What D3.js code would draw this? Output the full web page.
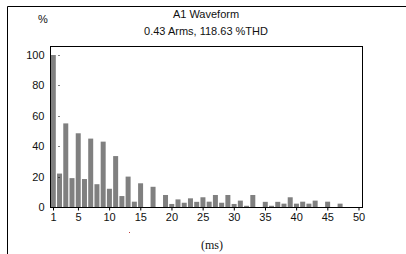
<!DOCTYPE html>
<html>
<head>
<meta charset="utf-8">
<script src="https://cdn.jsdelivr.net/npm/d3@7"></script>
<style>
  body { margin: 0; background: #fff; }
  svg text { font-family: "Liberation Sans", Arial, sans-serif; fill: #111; }
</style>
</head>
<body>
<div id="chart"></div>
<script>
// harmonic order and % of fundamental
const harmonics = d3.range(1, 51);
const percent = [
  100, 22, 55, 19, 48.5, 18.4, 45, 15, 43, 12,
  33.5, 7.2, 20, 3.5, 15.6, 0, 13.3, 0, 7.9, 2,
  5, 2.8, 5.7, 3.4, 6.4, 3.5, 7.9, 2.8, 7.9, 2,
  4.2, 0.8, 7.9, 0, 3.4, 0.8, 3.4, 2.2, 6.4, 2.2,
  3.5, 2.2, 4.2, 0, 3.5, 0, 2.2, 0, 0, 0
];
const xTicks = [1, 5, 10, 15, 20, 25, 30, 35, 40, 45, 50];
const yTicks = [0, 20, 40, 60, 80, 100];
const titleLines = ['A1 Waveform', '0.43 Arms, 118.63 %THD'];

const width = 406, height = 254;
const box = { left: 50.5, right: 362.5, top: 46.5, bottom: 207.5 };

const svg = d3.select('#chart').append('svg')
    .attr('width', width)
    .attr('height', height);

// outer frame (only top and left edges are in view)
svg.append('path')
    .attr('d', 'M7.5,' + height + 'V6.5H' + width)
    .attr('fill', 'none')
    .attr('stroke', '#000');

const x = d3.scaleLinear().domain([1, 50]).range([53, 358.5]);
const y = d3.scaleLinear().domain([0, 100]).range([207, 55]);
const barW = 5;

svg.append('g')
    .selectAll('rect').data(harmonics)
    .enter()
    .append('rect')
    .attr('x', d => x(d) - barW / 2 + 0.3)
    .attr('y', (d, i) => y(percent[i]))
    .attr('width', barW)
    .attr('height', (d, i) => y(0) - y(percent[i]))
    .attr('fill', '#808080');

// little marker dots near the y axis
svg.append('g')
    .selectAll('rect').data(yTicks.filter(v => v > 0))
    .enter()
    .append('rect')
    .attr('x', 58.5)
    .attr('y', d => Math.round(y(d)))
    .attr('width', 1)
    .attr('height', 1)
    .attr('fill', '#000');

// plot box
svg.append('rect')
    .attr('x', box.left)
    .attr('y', box.top)
    .attr('width', box.right - box.left)
    .attr('height', box.bottom - box.top)
    .attr('fill', 'none')
    .attr('stroke', '#000');

// x axis
const xAxis = d3.axisBottom(x).tickValues(xTicks).tickSize(3).tickPadding(3);
const gx = svg.append('g')
    .attr('transform', 'translate(0,' + box.bottom + ')')
    .call(xAxis);
gx.select('.domain').remove();
gx.selectAll('text').style('font-size', '11px').attr('fill', '#111');

// y axis labels
const yAxis = d3.axisLeft(y).tickValues(yTicks).tickSize(0).tickPadding(6);
const gy = svg.append('g')
    .attr('transform', 'translate(' + box.left + ',0)')
    .call(yAxis);
gy.select('.domain').remove();
gy.selectAll('text').style('font-size', '11px').attr('fill', '#111');

// titles
svg.append('g').selectAll('text').data(titleLines)
    .enter()
    .append('text')
    .attr('x', 206)
    .attr('y', (d, i) => 18 + i * 17)
    .attr('text-anchor', 'middle')
    .style('font-size', '11px')
    .text(d => d);

svg.append('text')
    .attr('x', 43)
    .attr('y', 23)
    .attr('text-anchor', 'middle')
    .style('font-size', '11px')
    .text('%');

svg.append('text')
    .attr('x', 212)
    .attr('y', 249)
    .attr('text-anchor', 'middle')
    .style('font-family', '"Liberation Serif", "Times New Roman", serif')
    .style('font-size', '12px')
    .text('(ms)');

// stray red pixel below the axis
svg.append('rect')
    .attr('x', 129)
    .attr('y', 232)
    .attr('width', 1)
    .attr('height', 1)
    .attr('fill', '#c04040');
</script>
</body>
</html>
